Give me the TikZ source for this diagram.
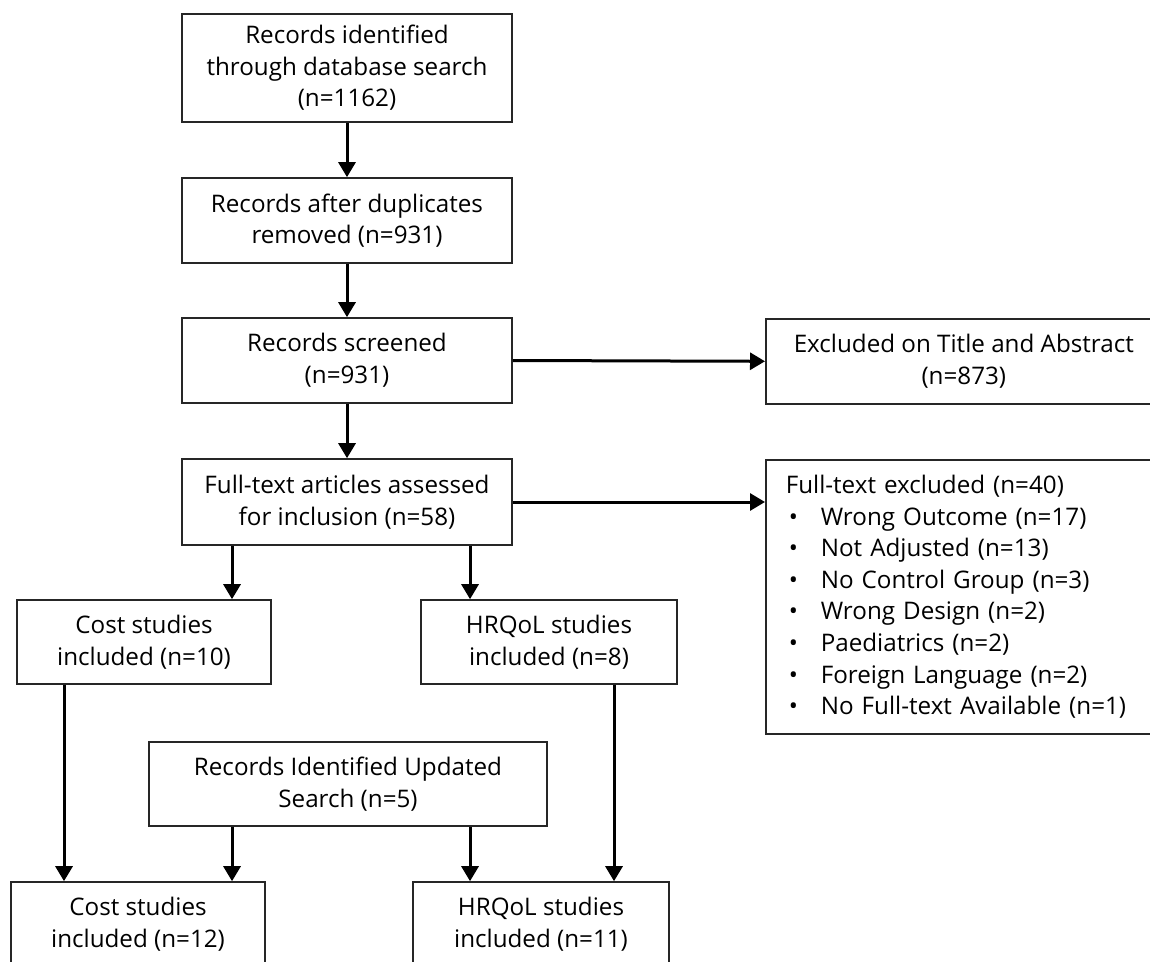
\documentclass[tikz,border=0pt]{standalone}
\usepackage{fontspec}
\setmainfont{Open Sans}
\usetikzlibrary{arrows.meta}

\tikzset{
  box/.style={draw=black!85, line width=0.8pt, align=center, inner sep=2pt,
    font=\fontsize{12.1}{15.8}\selectfont},
  arr/.style={line width=1.5pt, -{Triangle[length=7.5pt,width=8.5pt]}}
}
\newcommand{\itm}{\hspace*{1.5pt}\makebox[16pt][l]{\textbullet}}

\begin{document}
\begin{tikzpicture}[x=0.5pt, y=-0.5pt]
      \useasboundingbox (0,0) rectangle (1150,962);
      \clip (0,0) rectangle (1150,962);

      % Columna principal
      \node[box, minimum width=165pt, minimum height=54pt] (rec) at (347,68)
        {Records identified\\through database search\\(n=1162)};
      \node[box, minimum width=165pt, minimum height=42.5pt] (dup) at (347,220.5)
        {Records after duplicates\\removed (n=931)};
      \node[box, minimum width=165pt, minimum height=42.5pt] (scr) at (347,360.5)
        {Records screened\\(n=931)};
      \node[box, minimum width=165pt, minimum height=43pt] (full) at (347,502)
        {Full-text articles assessed\\for inclusion (n=58)};

      % Excluidos
      \node[box, anchor=north west, minimum width=198pt, minimum height=42.5pt] (excl) at (765,318)
        {Excluded on Title and Abstract\\(n=873)};
      \node[box, anchor=north west, minimum height=137pt, text width=187.5pt,
        inner xsep=10pt, align=left] (ftex) at (765,459)
        {Full-text excluded (n=40)\\
         \itm Wrong Outcome (n=17)\\
         \itm Not Adjusted (n=13)\\
         \itm No Control Group (n=3)\\
         \itm Wrong Design (n=2)\\
         \itm Paediatrics (n=2)\\
         \itm Foreign Language (n=2)\\
         \itm No Full-text Available (n=1)};

      % Estudios
      \node[box, minimum width=127pt, minimum height=42pt] (cost1) at (144,642)
        {Cost studies\\included (n=10)};
      \node[box, minimum width=128pt, minimum height=42pt] (hrq1) at (549,642)
        {HRQoL studies\\included (n=8)};
      \node[box, minimum width=199pt, minimum height=42pt] (upd) at (348,784)
        {Records Identified Updated\\Search (n=5)};
      \node[box, minimum width=127pt, minimum height=42pt] (cost2) at (138,924)
        {Cost studies\\included (n=12)};
      \node[box, minimum width=128pt, minimum height=42pt] (hrq2) at (541,924)
        {HRQoL studies\\included (n=11)};

      % Puntos auxiliares para las flechas
      \coordinate (lx) at (64,0);
      \coordinate (cx) at (232,0);
      \coordinate (hx) at (470,0);
      \coordinate (rx) at (614,0);

      % Flechas
      \draw[arr] (rec) -- (dup);
      \draw[arr] (dup) -- (scr);
      \draw[arr] (scr) -- (full);
      \draw[arr] (scr.east) -- (excl.west);
      \draw[arr] (full.east) -- (full.east -| ftex.west);
      \draw[arr] (full.south -| cx) -- (cost1.north -| cx);
      \draw[arr] (full.south -| hx) -- (hrq1.north -| hx);
      \draw[arr] (cost1.south -| lx) -- (cost2.north -| lx);
      \draw[arr] (hrq1.south -| rx) -- (hrq2.north -| rx);
      \draw[arr] (upd.south -| cx) -- (cost2.north -| cx);
      \draw[arr] (upd.south -| hx) -- (hrq2.north -| hx);
\end{tikzpicture}
\end{document}
